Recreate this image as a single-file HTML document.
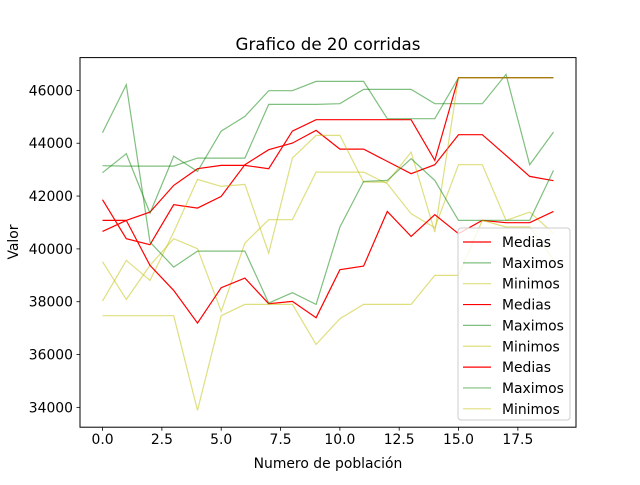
<!DOCTYPE html>
<html><head><meta charset="utf-8"><style>
body{margin:0;background:#fff;}
svg text{font-family:"DejaVu Sans","Liberation Sans",sans-serif;fill:#000;}
</style></head><body>
<svg id="chart" width="640" height="480" viewBox="0 0 640 480" xmlns="http://www.w3.org/2000/svg">
<rect x="0" y="0" width="640" height="480" fill="#fff"/>
<text x="328" y="50" font-size="16.7" text-anchor="middle">Grafico de 20 corridas</text>
<text x="328" y="468" font-size="13.9" text-anchor="middle">Numero de población</text>
<text x="18" y="242" font-size="13.9" text-anchor="middle" transform="rotate(-90 18 242)">Valor</text>
<g id="ticks"></g>
<g id="series"></g>
<rect x="80" y="57.6" width="496" height="369.6" fill="none" stroke="#000" stroke-width="1"/>
<g id="legend"></g>
</svg>
<script>
const xValues=[0,1,2,3,4,5,6,7,8,9,10,11,12,13,14,15,16,17,18,19];
const xTicks=[0,2.5,5,7.5,10,12.5,15,17.5];
const xTickLabels=["0.0","2.5","5.0","7.5","10.0","12.5","15.0","17.5"];
const yTicks=[34000,36000,38000,40000,42000,44000,46000];
const yTickLabels=["34000","36000","38000","40000","42000","44000","46000"];
const medias1=[41861,40384,40157,41671,41545,41987,43186,43754,44006,44486,43779,43779,43312,42845,43186,44322,44322,43539,42744,42580];
const maximos1=[43148,43135,43135,43135,43438,43438,43438,45470,45470,45470,45495,46038,46038,46038,45495,45495,45495,46606,43186,44423];
const minimos1=[39514,38088,39375,40385,40006,37633,40220,41104,41104,42908,42908,42908,42467,41331,40800,43186,43186,41078,41394,40586];
const medias2=[40662,41078,41394,42404,43034,43161,43161,43034,44461,44890,44890,44890,44890,44890,43350,46480,46480,46480,46480,46480];
const maximos2=[42883,43602,41356,43514,42934,44461,45016,45988,45988,46341,46341,46341,44928,44928,44928,46480,46480,46480,46480,46480];
const minimos2=[38024,39564,38807,40637,42631,42366,42441,39841,43438,44296,44296,42530,42530,43666,40637,46480,46480,46480,46480,46480];
const medias3=[41078,41078,39375,38428,37191,38529,38895,37923,38012,37393,39211,39349,41419,40473,41293,40574,41078,40990,40990,41419];
const maximos3=[44397,46215,40258,39312,39917,39917,39917,37949,38340,37898,40826,42555,42593,43413,42593,41078,41078,41078,41078,42971];
const minimos3=[37469,37469,37469,37469,33885,37469,37898,37898,37898,36384,37355,37898,37898,37898,38996,38996,41078,40830,40830,39600];

const NS="http://www.w3.org/2000/svg";
const L=80,R=576,T=57.6,B=427.2;
const xmin=-0.95,xmax=19.95;
const dmin=Math.min(...[].concat(medias1,maximos1,minimos1,medias2,maximos2,minimos2,medias3,maximos3,minimos3));
const dmax=Math.max(...[].concat(medias1,maximos1,minimos1,medias2,maximos2,minimos2,medias3,maximos3,minimos3));
const pad=(dmax-dmin)*0.05;
const ymin=dmin-pad,ymax=dmax+pad;
function sx(v){return L+(v-xmin)/(xmax-xmin)*(R-L);}
function sy(v){return B-(v-ymin)/(ymax-ymin)*(B-T);}
function mk(tag,attrs,parent){const e=document.createElementNS(NS,tag);for(const k in attrs)e.setAttribute(k,attrs[k]);parent.appendChild(e);return e;}
const tg=document.getElementById('ticks');
xTicks.forEach((t,i)=>{
  const x=sx(t);
  const tk=mk('line',{x1:x,x2:x,y1:B,y2:B+3.5,stroke:'#000','stroke-width':0.8},tg);
  
  
  const lb=mk('text',{x:x,y:B+17,'font-size':13.9,'text-anchor':'middle'},tg);
  lb.textContent=xTickLabels[i];
  
  
});
yTicks.forEach((t,i)=>{
  const y=sy(t);
  const tk=mk('line',{x1:L-3.5,x2:L,y1:y,y2:y,stroke:'#000','stroke-width':0.8},tg);
  
  
  const lb=mk('text',{x:L-7,y:y+5,'font-size':13.9,'text-anchor':'end'},tg);
  lb.textContent=yTickLabels[i];
  
  
});
const sg=document.getElementById('series');
const runs=[[medias1,maximos1,minimos1],[medias2,maximos2,minimos2],[medias3,maximos3,minimos3]];
const styles=[{c:'#ff0000',o:1,n:'medias'},{c:'#008000',o:0.5,n:'maximos'},{c:'#bfbf00',o:0.5,n:'minimos'}];
runs.forEach((run,ri)=>{
  run.forEach((vals,si)=>{
    const st=styles[si];
    const pts=vals.map((v,i)=>sx(xValues[i]).toFixed(1)+','+sy(v).toFixed(1)).join(' ');
    const p=mk('polyline',{points:pts,fill:'none',stroke:st.c,'stroke-opacity':st.o,'stroke-width':1.2},sg);
    
    
  });
});
const lg=document.getElementById('legend');
const box=mk('rect',{x:458,y:228,width:112,height:192,rx:3,fill:'#fff','fill-opacity':0.8,stroke:'#ccc','stroke-width':1},lg);


const legendLabels=['Medias','Maximos','Minimos'];
for(let k=0;k<9;k++){
  const st=styles[k%3];
  const y=242+k*20.85;
  const ln=mk('line',{x1:463,x2:491,y1:y,y2:y,stroke:st.c,'stroke-opacity':st.o,'stroke-width':1.2},lg);
  
  
  const tx=mk('text',{x:502,y:y+5,'font-size':13.9},lg);
  tx.textContent=legendLabels[k%3];
  
  
}
</script>
</body></html>
